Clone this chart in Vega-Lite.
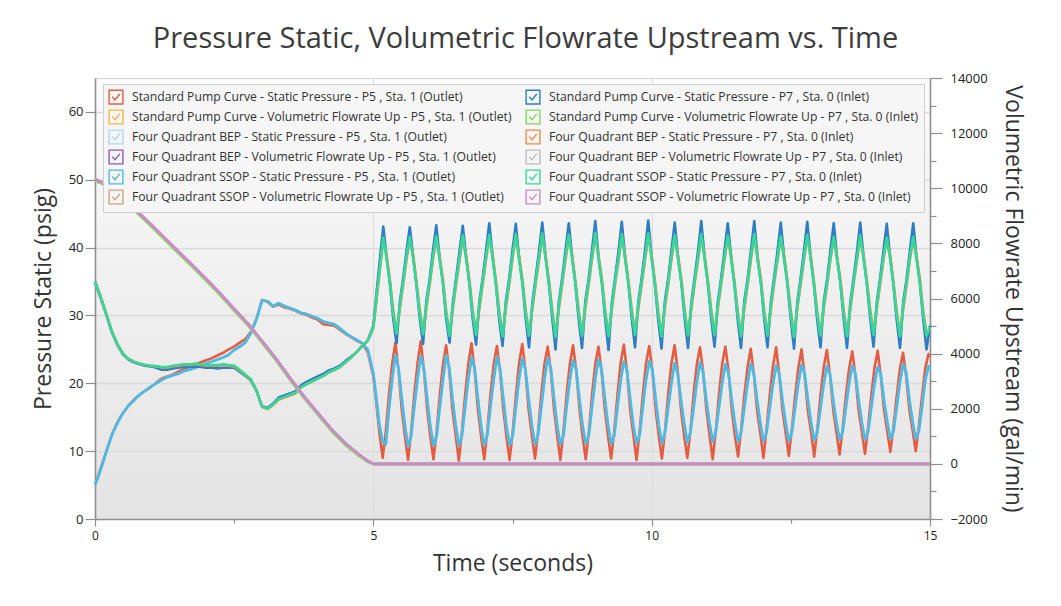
{
"$schema":"https://vega.github.io/schema/vega-lite/v6.json",
"width":835,"height":441,
"autosize":{"type":"none"},
"padding":{"left":95,"top":78,"right":131,"bottom":87},
"background":"white",
"title":{"text":"Pressure Static, Volumetric Flowrate Upstream vs. Time","font":"Open Sans","fontSize":29,"fontWeight":"normal","color":"#3c3c3c","anchor":"middle","baseline":"alphabetic","offset":26,"dx":13,"dy":31},
"config":{
 "view":{"stroke":"#d4d4d4","fill":{"gradient":"linear","x1":0,"y1":0,"x2":0,"y2":1,"stops":[{"offset":0,"color":"#fbfbfb"},{"offset":1,"color":"#e4e4e4"}]}},
 "axis":{"labelFont":"Open Sans","labelFontSize":12.5,"labelColor":"#222","titleFont":"Open Sans","titleFontSize":23,"titleFontWeight":"normal","titleColor":"#333","domainColor":"#8f8f8f","domainWidth":1.6,"tickColor":"#8f8f8f","tickWidth":1.2,"gridColor":"#d9d9d9","gridWidth":1.5}
},
"datasets":{
"p5":[
{"t":0,"a":5,"b":5,"c":5},{"t":0.1,"a":7.4,"b":7.2,"c":7.2},{"t":0.2,"a":9.9,"b":9.8,"c":9.8},{"t":0.3,"a":12.4,"b":12.3,"c":12.3},{"t":0.4,"a":14.2,"b":14.1,"c":14.1},{"t":0.5,"a":15.6,"b":15.6,"c":15.6},{"t":0.6,"a":16.7,"b":16.7,"c":16.7},{"t":0.7,"a":17.6,"b":17.5,"c":17.5},{"t":0.8,"a":18.3,"b":18.3,"c":18.3},{"t":0.9,"a":18.9,"b":18.9,"c":18.9},
{"t":1,"a":19.4,"b":19.5,"c":19.5},{"t":1.1,"a":20.1,"b":20,"c":20},{"t":1.2,"a":20.7,"b":20.5,"c":20.5},{"t":1.3,"a":21,"b":20.9,"c":20.9},{"t":1.4,"a":21.3,"b":21.2,"c":21.2},{"t":1.5,"a":21.7,"b":21.4,"c":21.4},{"t":1.6,"a":22.1,"b":21.8,"c":21.8},{"t":1.7,"a":22.5,"b":22,"c":22},{"t":1.8,"a":22.8,"b":22.3,"c":22.3},{"t":1.9,"a":23.1,"b":22.6,"c":22.6},
{"t":2,"a":23.4,"b":22.9,"c":22.9},{"t":2.1,"a":23.7,"b":23.2,"c":23.2},{"t":2.2,"a":24.1,"b":23.5,"c":23.5},{"t":2.3,"a":24.5,"b":23.8,"c":23.8},{"t":2.4,"a":25,"b":24.2,"c":24.2},{"t":2.5,"a":25.4,"b":24.9,"c":24.9},{"t":2.6,"a":26,"b":25.4,"c":25.4},{"t":2.7,"a":26.5,"b":26,"c":26},{"t":2.8,"a":27.6,"b":27.4,"c":27.4},{"t":2.9,"a":29.5,"b":29.4,"c":29.4},
{"t":3,"a":32.3,"b":32.2,"c":32.2},{"t":3.1,"a":32,"b":32.1,"c":32.1},{"t":3.2,"a":31.3,"b":31.4,"c":31.4},{"t":3.3,"a":31.6,"b":31.8,"c":31.8},{"t":3.4,"a":31.2,"b":31.4,"c":31.4},{"t":3.5,"a":31,"b":31.1,"c":31.1},{"t":3.6,"a":30.7,"b":30.8,"c":30.8},{"t":3.7,"a":30.3,"b":30.4,"c":30.4},{"t":3.8,"a":30.1,"b":30.2,"c":30.2},{"t":3.9,"a":29.7,"b":29.9,"c":29.9},
{"t":4,"a":29.4,"b":29.6,"c":29.6},{"t":4.1,"a":28.7,"b":29.1,"c":29.1},{"t":4.2,"a":28.6,"b":28.9,"c":28.9},{"t":4.3,"a":28.5,"b":28.7,"c":28.7},{"t":4.4,"a":27.9,"b":28.1,"c":28.1},{"t":4.5,"a":27.3,"b":27.4,"c":27.4},{"t":4.6,"a":26.8,"b":26.9,"c":26.9},{"t":4.7,"a":26.3,"b":26.4,"c":26.4},{"t":4.8,"a":25.9,"b":25.9,"c":25.9},{"t":4.9,"a":24.6,"b":25,"c":25},
{"t":5,"a":21,"b":21.5,"c":21.5},{"t":5.054,"a":17,"b":17.8,"c":17.8},{"t":5.111,"a":12.6,"b":13.8,"c":13.8},
{"t":5.168,"a":9,"b":11.4,"c":11.4},{"t":5.225,"a":13,"b":11,"c":11},{"t":5.282,"a":18.4,"b":16.2,"c":16.2},{"t":5.339,"a":22.9,"b":20.6,"c":20.6},{"t":5.396,"a":26,"b":24.2,"c":24.2},{"t":5.453,"a":21.8,"b":22.2,"c":22.2},{"t":5.51,"a":16.2,"b":17.8,"c":17.8},{"t":5.567,"a":12.3,"b":13.8,"c":13.8},
{"t":5.624,"a":8.7,"b":10.7,"c":10.7},{"t":5.681,"a":13.1,"b":12.3,"c":12.3},{"t":5.738,"a":18.5,"b":16.7,"c":16.7},{"t":5.795,"a":23,"b":20.7,"c":20.7},{"t":5.852,"a":26.2,"b":24,"c":24},{"t":5.909,"a":21.9,"b":22.1,"c":22.1},{"t":5.966,"a":16.3,"b":17.9,"c":17.9},{"t":6.023,"a":12.2,"b":13.7,"c":13.7},
{"t":6.08,"a":8.8,"b":10.8,"c":10.8},{"t":6.137,"a":12.9,"b":12.2,"c":12.2},{"t":6.194,"a":18.3,"b":16.5,"c":16.5},{"t":6.251,"a":22.8,"b":20.5,"c":20.5},{"t":6.308,"a":25.6,"b":24.1,"c":24.1},{"t":6.365,"a":21.7,"b":22.3,"c":22.3},{"t":6.422,"a":16.1,"b":17.7,"c":17.7},{"t":6.479,"a":12.4,"b":13.9,"c":13.9},
{"t":6.536,"a":8.6,"b":10.8,"c":10.8},{"t":6.593,"a":13,"b":12.3,"c":12.3},{"t":6.65,"a":18.4,"b":16.6,"c":16.6},{"t":6.707,"a":22.9,"b":20.6,"c":20.6},{"t":6.764,"a":25.9,"b":23.8,"c":23.8},{"t":6.821,"a":21.8,"b":22.2,"c":22.2},{"t":6.878,"a":16.2,"b":17.8,"c":17.8},{"t":6.935,"a":12.3,"b":13.8,"c":13.8},
{"t":6.992,"a":8.8,"b":10.9,"c":10.9},{"t":7.049,"a":13.1,"b":12.4,"c":12.4},{"t":7.106,"a":18.5,"b":16.7,"c":16.7},{"t":7.163,"a":22.8,"b":20.5,"c":20.5},{"t":7.22,"a":25.5,"b":23.9,"c":23.9},{"t":7.277,"a":21.7,"b":22.1,"c":22.1},{"t":7.334,"a":16.3,"b":17.9,"c":17.9},{"t":7.391,"a":12.2,"b":13.7,"c":13.7},
{"t":7.448,"a":8.7,"b":10.9,"c":10.9},{"t":7.505,"a":13,"b":12.3,"c":12.3},{"t":7.562,"a":18.3,"b":16.6,"c":16.6},{"t":7.619,"a":23,"b":20.7,"c":20.7},{"t":7.676,"a":25.8,"b":23.6,"c":23.6},{"t":7.733,"a":21.8,"b":22,"c":22},{"t":7.79,"a":16.1,"b":17.7,"c":17.7},{"t":7.847,"a":12.4,"b":13.9,"c":13.9},
{"t":7.904,"a":8.9,"b":11,"c":11},{"t":7.961,"a":13,"b":12.4,"c":12.4},{"t":8.018,"a":18.4,"b":16.5,"c":16.5},{"t":8.075,"a":22.9,"b":20.6,"c":20.6},{"t":8.132,"a":25.4,"b":23.7,"c":23.7},{"t":8.189,"a":21.8,"b":22.2,"c":22.2},{"t":8.246,"a":16.2,"b":17.8,"c":17.8},{"t":8.303,"a":12.3,"b":13.8,"c":13.8},
{"t":8.36,"a":8.7,"b":11,"c":11},{"t":8.417,"a":13.1,"b":12.3,"c":12.3},{"t":8.474,"a":18.5,"b":16.7,"c":16.7},{"t":8.531,"a":22.9,"b":20.5,"c":20.5},{"t":8.588,"a":25.6,"b":23.4,"c":23.4},{"t":8.645,"a":21.9,"b":22,"c":22},{"t":8.702,"a":16.3,"b":17.7,"c":17.7},{"t":8.759,"a":12.2,"b":13.8,"c":13.8},
{"t":8.816,"a":8.8,"b":11.1,"c":11.1},{"t":8.873,"a":13,"b":12.4,"c":12.4},{"t":8.93,"a":18.4,"b":16.6,"c":16.6},{"t":8.987,"a":22.8,"b":20.6,"c":20.6},{"t":9.044,"a":25.4,"b":23.5,"c":23.5},{"t":9.101,"a":21.7,"b":22.1,"c":22.1},{"t":9.158,"a":16.2,"b":17.8,"c":17.8},{"t":9.215,"a":12.3,"b":13.9,"c":13.9},
{"t":9.272,"a":8.9,"b":11.1,"c":11.1},{"t":9.329,"a":13.1,"b":12.3,"c":12.3},{"t":9.386,"a":18.3,"b":16.5,"c":16.5},{"t":9.443,"a":23,"b":20.4,"c":20.4},{"t":9.5,"a":25.7,"b":23.2,"c":23.2},{"t":9.557,"a":21.8,"b":21.9,"c":21.9},{"t":9.614,"a":16.1,"b":17.7,"c":17.7},{"t":9.671,"a":12.4,"b":13.8,"c":13.8},
{"t":9.728,"a":8.7,"b":11.2,"c":11.2},{"t":9.785,"a":13,"b":12.4,"c":12.4},{"t":9.842,"a":18.4,"b":16.6,"c":16.6},{"t":9.899,"a":22.9,"b":20.5,"c":20.5},{"t":9.956,"a":25.5,"b":23.3,"c":23.3},{"t":10.013,"a":21.8,"b":22,"c":22},{"t":10.07,"a":16.2,"b":17.8,"c":17.8},{"t":10.127,"a":12.3,"b":13.9,"c":13.9},
{"t":10.184,"a":8.9,"b":11.2,"c":11.2},{"t":10.241,"a":13.1,"b":12.8,"c":12.8},{"t":10.298,"a":18.5,"b":16.5,"c":16.5},{"t":10.355,"a":22.9,"b":20,"c":20},{"t":10.412,"a":25.6,"b":23,"c":23},{"t":10.469,"a":21.8,"b":21.4,"c":21.4},{"t":10.526,"a":16.2,"b":17.6,"c":17.6},{"t":10.583,"a":12.3,"b":14.2,"c":14.2},
{"t":10.64,"a":9,"b":11.3,"c":11.3},{"t":10.697,"a":13,"b":12.8,"c":12.8},{"t":10.754,"a":18.4,"b":16.4,"c":16.4},{"t":10.811,"a":22.8,"b":20.1,"c":20.1},{"t":10.868,"a":25.3,"b":23.1,"c":23.1},{"t":10.925,"a":21.7,"b":21.5,"c":21.5},{"t":10.982,"a":16.2,"b":17.5,"c":17.5},{"t":11.039,"a":12.4,"b":14.2,"c":14.2},
{"t":11.096,"a":8.8,"b":11.4,"c":11.4},{"t":11.153,"a":13.1,"b":12.9,"c":12.9},{"t":11.21,"a":18.4,"b":16.5,"c":16.5},{"t":11.267,"a":22.9,"b":20,"c":20},{"t":11.324,"a":25.4,"b":22.8,"c":22.8},{"t":11.381,"a":21.8,"b":21.4,"c":21.4},{"t":11.438,"a":16.2,"b":17.6,"c":17.6},{"t":11.495,"a":12.3,"b":14.2,"c":14.2},
{"t":11.552,"a":9.2,"b":11.4,"c":11.4},{"t":11.609,"a":13.4,"b":12.8,"c":12.8},{"t":11.666,"a":18.3,"b":16.5,"c":16.5},{"t":11.723,"a":22.4,"b":20,"c":20},{"t":11.78,"a":25.1,"b":22.9,"c":22.9},{"t":11.837,"a":21.2,"b":21.4,"c":21.4},{"t":11.894,"a":16,"b":17.6,"c":17.6},{"t":11.951,"a":12.7,"b":14.2,"c":14.2},
{"t":12.008,"a":9,"b":11.5,"c":11.5},{"t":12.065,"a":13.4,"b":12.8,"c":12.8},{"t":12.122,"a":18.3,"b":16.4,"c":16.4},{"t":12.179,"a":22.5,"b":19.9,"c":19.9},{"t":12.236,"a":25.3,"b":22.6,"c":22.6},{"t":12.293,"a":21.2,"b":21.3,"c":21.3},{"t":12.35,"a":16.1,"b":17.5,"c":17.5},{"t":12.407,"a":12.7,"b":14.2,"c":14.2},
{"t":12.464,"a":9.3,"b":11.5,"c":11.5},{"t":12.521,"a":13.5,"b":12.9,"c":12.9},{"t":12.578,"a":18.2,"b":16.5,"c":16.5},{"t":12.635,"a":22.3,"b":20,"c":20},{"t":12.692,"a":25,"b":22.7,"c":22.7},{"t":12.749,"a":21.1,"b":21.4,"c":21.4},{"t":12.806,"a":16,"b":17.6,"c":17.6},{"t":12.863,"a":12.8,"b":14.3,"c":14.3},
{"t":12.92,"a":9.2,"b":11.6,"c":11.6},{"t":12.977,"a":13.4,"b":12.8,"c":12.8},{"t":13.034,"a":18.3,"b":16.4,"c":16.4},{"t":13.091,"a":22.4,"b":19.9,"c":19.9},{"t":13.148,"a":24.9,"b":22.5,"c":22.5},{"t":13.205,"a":21.1,"b":21.3,"c":21.3},{"t":13.262,"a":16,"b":17.5,"c":17.5},{"t":13.319,"a":12.8,"b":14.3,"c":14.3},
{"t":13.376,"a":9.5,"b":11.7,"c":11.7},{"t":13.433,"a":13.5,"b":12.9,"c":12.9},{"t":13.49,"a":18.2,"b":16.5,"c":16.5},{"t":13.547,"a":22.2,"b":20,"c":20},{"t":13.604,"a":24.7,"b":22.6,"c":22.6},{"t":13.661,"a":21,"b":21.4,"c":21.4},{"t":13.718,"a":16,"b":17.6,"c":17.6},{"t":13.775,"a":12.9,"b":14.3,"c":14.3},
{"t":13.832,"a":9.6,"b":11.7,"c":11.7},{"t":13.889,"a":13.6,"b":12.9,"c":12.9},{"t":13.946,"a":18.2,"b":16.4,"c":16.4},{"t":14.003,"a":22.3,"b":19.9,"c":19.9},{"t":14.06,"a":24.8,"b":22.4,"c":22.4},{"t":14.117,"a":21,"b":21.3,"c":21.3},{"t":14.174,"a":16.1,"b":17.5,"c":17.5},{"t":14.231,"a":13,"b":14.4,"c":14.4},
{"t":14.288,"a":9.9,"b":11.8,"c":11.8},{"t":14.345,"a":13.7,"b":12.9,"c":12.9},{"t":14.402,"a":18.1,"b":16.5,"c":16.5},{"t":14.459,"a":22.1,"b":20.1,"c":20.1},{"t":14.516,"a":24.5,"b":22.8,"c":22.8},{"t":14.573,"a":20.9,"b":21.6,"c":21.6},{"t":14.63,"a":16.1,"b":17.6,"c":17.6},{"t":14.687,"a":13.1,"b":14.4,"c":14.4},
{"t":14.744,"a":10,"b":11.8,"c":11.8},{"t":14.801,"a":13.8,"b":13,"c":13},{"t":14.858,"a":18.2,"b":16.6,"c":16.6},{"t":14.915,"a":22.2,"b":20.4,"c":20.4},{"t":14.972,"a":24.3,"b":22.5,"c":22.5},{"t":15,"a":23.9,"b":22,"c":22}
],
"p7":[
{"t":0,"d":35,"e":35,"f":35},{"t":0.1,"d":32.6,"e":32.8,"f":32.8},{"t":0.2,"d":30.2,"e":30.3,"f":30.3},{"t":0.3,"d":27.6,"e":27.7,"f":27.7},{"t":0.4,"d":25.7,"e":25.8,"f":25.8},{"t":0.5,"d":24.3,"e":24.4,"f":24.4},{"t":0.6,"d":23.5,"e":23.6,"f":23.6},{"t":0.7,"d":23.1,"e":23.2,"f":23.2},{"t":0.8,"d":22.8,"e":22.9,"f":22.9},{"t":0.9,"d":22.6,"e":22.7,"f":22.7},
{"t":1,"d":22.5,"e":22.6,"f":22.6},{"t":1.1,"d":22.3,"e":22.5,"f":22.5},{"t":1.2,"d":22,"e":22.3,"f":22.4},{"t":1.3,"d":22,"e":22.3,"f":22.4},{"t":1.4,"d":22.2,"e":22.5,"f":22.6},{"t":1.5,"d":22.3,"e":22.6,"f":22.7},{"t":1.6,"d":22.4,"e":22.7,"f":22.8},{"t":1.7,"d":22.4,"e":22.7,"f":22.8},{"t":1.8,"d":22.5,"e":22.8,"f":22.9},{"t":1.9,"d":22.4,"e":22.7,"f":22.8},
{"t":2,"d":22.3,"e":22.6,"f":22.7},{"t":2.1,"d":22.3,"e":22.6,"f":22.7},{"t":2.2,"d":22.2,"e":22.6,"f":22.7},{"t":2.3,"d":22.3,"e":22.7,"f":22.8},{"t":2.4,"d":22.3,"e":22.6,"f":22.7},{"t":2.5,"d":22.3,"e":22.5,"f":22.6},{"t":2.6,"d":21.7,"e":21.9,"f":22},{"t":2.7,"d":21.1,"e":21.2,"f":21.3},{"t":2.8,"d":20.4,"e":20.5,"f":20.6},{"t":2.9,"d":18.9,"e":19,"f":19},
{"t":3,"d":16.6,"e":16.5,"f":16.6},{"t":3.1,"d":16.4,"e":16.2,"f":16.3},{"t":3.2,"d":17,"e":16.8,"f":16.9},{"t":3.3,"d":17.9,"e":17.6,"f":17.7},{"t":3.4,"d":18.2,"e":17.9,"f":18},{"t":3.5,"d":18.5,"e":18.2,"f":18.3},{"t":3.6,"d":18.8,"e":18.5,"f":18.6},{"t":3.7,"d":19.7,"e":19.4,"f":19.4},{"t":3.8,"d":20.2,"e":19.9,"f":19.9},{"t":3.9,"d":20.6,"e":20.3,"f":20.3},
{"t":4,"d":21,"e":20.7,"f":20.7},{"t":4.1,"d":21.4,"e":21.1,"f":21.1},{"t":4.2,"d":21.9,"e":21.6,"f":21.6},{"t":4.3,"d":22.2,"e":22,"f":22},{"t":4.4,"d":22.6,"e":22.4,"f":22.4},{"t":4.5,"d":23.3,"e":23.1,"f":23.1},{"t":4.6,"d":23.9,"e":23.8,"f":23.8},{"t":4.7,"d":24.6,"e":24.6,"f":24.6},{"t":4.8,"d":25.5,"e":25.5,"f":25.5},{"t":4.9,"d":26.3,"e":26.3,"f":26.3},
{"t":5,"d":28.5,"e":28.2,"f":28.2},{"t":5.06,"d":33.5,"e":32.6,"f":32.8},{"t":5.12,"d":38.5,"e":37,"f":37.2},
{"t":5.179,"d":43.1,"e":41.2,"f":41.5},{"t":5.239,"d":38.6,"e":38.8,"f":38.3},{"t":5.298,"d":34.7,"e":35.2,"f":34.8},{"t":5.358,"d":29.5,"e":30.7,"f":30.2},{"t":5.417,"d":25.9,"e":27.5,"f":27.3},{"t":5.477,"d":32,"e":31,"f":31.5},{"t":5.536,"d":35.5,"e":34.6,"f":35},{"t":5.596,"d":39.5,"e":38.2,"f":38.6},
{"t":5.655,"d":43,"e":41.3,"f":41.6},{"t":5.715,"d":38.7,"e":38.9,"f":38.4},{"t":5.774,"d":34.6,"e":35.1,"f":34.7},{"t":5.834,"d":29.6,"e":30.8,"f":30.3},{"t":5.893,"d":25.8,"e":27.4,"f":27.2},{"t":5.953,"d":32.1,"e":31.1,"f":31.6},{"t":6.012,"d":35.4,"e":34.5,"f":34.9},{"t":6.072,"d":39.6,"e":38.3,"f":38.7},
{"t":6.131,"d":43.3,"e":41.4,"f":41.7},{"t":6.191,"d":38.5,"e":38.7,"f":38.2},{"t":6.25,"d":34.8,"e":35.3,"f":34.9},{"t":6.31,"d":29.4,"e":30.6,"f":30.1},{"t":6.369,"d":26,"e":27.2,"f":27},{"t":6.429,"d":31.9,"e":30.9,"f":31.4},{"t":6.488,"d":35.6,"e":34.7,"f":35.1},{"t":6.548,"d":39.4,"e":38.1,"f":38.5},
{"t":6.607,"d":43.2,"e":41.5,"f":41.8},{"t":6.667,"d":38.6,"e":38.8,"f":38.3},{"t":6.726,"d":34.7,"e":35.2,"f":34.8},{"t":6.786,"d":29.5,"e":30.7,"f":30.2},{"t":6.845,"d":25.7,"e":27.3,"f":27.1},{"t":6.905,"d":32,"e":31,"f":31.5},{"t":6.964,"d":35.5,"e":34.6,"f":35},{"t":7.024,"d":39.5,"e":38.2,"f":38.6},
{"t":7.083,"d":43.6,"e":41.6,"f":41.9},{"t":7.143,"d":38.7,"e":38.9,"f":38.4},{"t":7.202,"d":34.6,"e":35.1,"f":34.7},{"t":7.262,"d":29.4,"e":30.6,"f":30.1},{"t":7.321,"d":25.5,"e":27.1,"f":26.9},{"t":7.381,"d":32.1,"e":31.1,"f":31.6},{"t":7.44,"d":35.4,"e":34.5,"f":34.9},{"t":7.5,"d":39.6,"e":38.3,"f":38.7},
{"t":7.559,"d":43.5,"e":41.7,"f":42},{"t":7.619,"d":38.5,"e":38.7,"f":38.2},{"t":7.678,"d":34.8,"e":35.3,"f":34.9},{"t":7.738,"d":29.5,"e":30.7,"f":30.2},{"t":7.797,"d":25.3,"e":27.2,"f":27},{"t":7.857,"d":31.9,"e":30.9,"f":31.4},{"t":7.916,"d":35.6,"e":34.7,"f":35.1},{"t":7.976,"d":39.4,"e":38.1,"f":38.5},
{"t":8.035,"d":43.7,"e":41.8,"f":42.1},{"t":8.095,"d":38.6,"e":38.8,"f":38.3},{"t":8.154,"d":34.7,"e":35.2,"f":34.8},{"t":8.214,"d":29.6,"e":30.8,"f":30.3},{"t":8.273,"d":25,"e":27,"f":26.8},{"t":8.333,"d":32,"e":31,"f":31.5},{"t":8.392,"d":35.5,"e":34.6,"f":35},{"t":8.452,"d":39.5,"e":38.2,"f":38.6},
{"t":8.511,"d":43.6,"e":41.6,"f":41.9},{"t":8.571,"d":38.7,"e":38.9,"f":38.4},{"t":8.63,"d":34.6,"e":35.1,"f":34.7},{"t":8.69,"d":29.4,"e":30.6,"f":30.1},{"t":8.749,"d":25.2,"e":27.2,"f":27},{"t":8.809,"d":32.1,"e":31.1,"f":31.6},{"t":8.868,"d":35.4,"e":34.5,"f":34.9},{"t":8.928,"d":39.6,"e":38.3,"f":38.7},
{"t":8.987,"d":43.9,"e":41.9,"f":42.2},{"t":9.047,"d":38.5,"e":38.7,"f":38.2},{"t":9.106,"d":34.8,"e":35.3,"f":34.9},{"t":9.166,"d":29.5,"e":30.7,"f":30.2},{"t":9.225,"d":24.9,"e":27.1,"f":26.9},{"t":9.285,"d":31.9,"e":30.9,"f":31.4},{"t":9.344,"d":35.6,"e":34.7,"f":35.1},{"t":9.404,"d":39.4,"e":38.1,"f":38.5},
{"t":9.463,"d":43.8,"e":41.7,"f":42},{"t":9.523,"d":38.6,"e":38.8,"f":38.3},{"t":9.582,"d":34.7,"e":35.2,"f":34.8},{"t":9.642,"d":29.6,"e":30.8,"f":30.3},{"t":9.701,"d":25.3,"e":27.3,"f":27.1},{"t":9.761,"d":32,"e":31,"f":31.5},{"t":9.82,"d":35.5,"e":34.6,"f":35},{"t":9.88,"d":39.5,"e":38.2,"f":38.6},
{"t":9.939,"d":44,"e":41.8,"f":42.1},{"t":9.999,"d":38.7,"e":38.9,"f":38.4},{"t":10.058,"d":34.6,"e":35.1,"f":34.7},{"t":10.118,"d":29.4,"e":30.6,"f":30.1},{"t":10.177,"d":25.1,"e":27.1,"f":26.9},{"t":10.237,"d":32.1,"e":31.1,"f":31.6},{"t":10.296,"d":35.4,"e":34.5,"f":34.9},{"t":10.356,"d":39.6,"e":38.3,"f":38.7},
{"t":10.415,"d":43.7,"e":41.6,"f":41.9},{"t":10.475,"d":38.5,"e":38.7,"f":38.2},{"t":10.534,"d":34.8,"e":35.3,"f":34.9},{"t":10.594,"d":29.5,"e":30.7,"f":30.2},{"t":10.653,"d":25.2,"e":27.2,"f":27},{"t":10.713,"d":31.9,"e":30.9,"f":31.4},{"t":10.772,"d":35.6,"e":34.7,"f":35.1},{"t":10.832,"d":39.4,"e":38.1,"f":38.5},
{"t":10.891,"d":43.9,"e":41.7,"f":42},{"t":10.951,"d":38.6,"e":38.8,"f":38.3},{"t":11.01,"d":34.7,"e":35.2,"f":34.8},{"t":11.07,"d":29.6,"e":30.8,"f":30.3},{"t":11.129,"d":25.4,"e":27.3,"f":27.1},{"t":11.189,"d":32,"e":31,"f":31.5},{"t":11.248,"d":35.5,"e":34.6,"f":35},{"t":11.308,"d":39.5,"e":38.2,"f":38.6},
{"t":11.367,"d":43.6,"e":41.5,"f":41.8},{"t":11.427,"d":38.7,"e":38.9,"f":38.4},{"t":11.486,"d":34.6,"e":35.1,"f":34.7},{"t":11.546,"d":29.4,"e":30.6,"f":30.1},{"t":11.605,"d":25.2,"e":27.1,"f":26.9},{"t":11.665,"d":32.1,"e":31.1,"f":31.6},{"t":11.724,"d":35.4,"e":34.5,"f":34.9},{"t":11.784,"d":39.6,"e":38.3,"f":38.7},
{"t":11.843,"d":43.9,"e":41.7,"f":42},{"t":11.903,"d":38.5,"e":38.7,"f":38.2},{"t":11.962,"d":34.8,"e":35.3,"f":34.9},{"t":12.022,"d":29.5,"e":30.7,"f":30.2},{"t":12.081,"d":25.3,"e":27.2,"f":27},{"t":12.141,"d":31.9,"e":30.9,"f":31.4},{"t":12.2,"d":35.6,"e":34.7,"f":35.1},{"t":12.26,"d":39.4,"e":38.1,"f":38.5},
{"t":12.319,"d":43.7,"e":41.4,"f":41.7},{"t":12.379,"d":38.6,"e":38.8,"f":38.3},{"t":12.438,"d":34.7,"e":35.2,"f":34.8},{"t":12.498,"d":29.6,"e":30.8,"f":30.3},{"t":12.557,"d":25.1,"e":27,"f":26.8},{"t":12.617,"d":32,"e":31,"f":31.5},{"t":12.676,"d":35.5,"e":34.6,"f":35},{"t":12.736,"d":39.5,"e":38.2,"f":38.6},
{"t":12.795,"d":43.8,"e":41.6,"f":41.9},{"t":12.855,"d":38.7,"e":38.9,"f":38.4},{"t":12.914,"d":34.6,"e":35.1,"f":34.7},{"t":12.974,"d":29.4,"e":30.6,"f":30.1},{"t":13.033,"d":25.3,"e":27.2,"f":27},{"t":13.093,"d":32.1,"e":31.1,"f":31.6},{"t":13.152,"d":35.4,"e":34.5,"f":34.9},{"t":13.212,"d":39.6,"e":38.3,"f":38.7},
{"t":13.271,"d":43.6,"e":41.3,"f":41.6},{"t":13.331,"d":38.5,"e":38.7,"f":38.2},{"t":13.39,"d":34.8,"e":35.3,"f":34.9},{"t":13.45,"d":29.5,"e":30.7,"f":30.2},{"t":13.509,"d":25.2,"e":27.1,"f":26.9},{"t":13.569,"d":31.9,"e":30.9,"f":31.4},{"t":13.628,"d":35.6,"e":34.7,"f":35.1},{"t":13.688,"d":39.4,"e":38.1,"f":38.5},
{"t":13.747,"d":43.7,"e":41.5,"f":41.8},{"t":13.807,"d":38.6,"e":38.8,"f":38.3},{"t":13.866,"d":34.7,"e":35.2,"f":34.8},{"t":13.926,"d":29.6,"e":30.8,"f":30.3},{"t":13.985,"d":25.4,"e":27.3,"f":27.1},{"t":14.045,"d":32,"e":31,"f":31.5},{"t":14.104,"d":35.5,"e":34.6,"f":35},{"t":14.164,"d":39.5,"e":38.2,"f":38.6},
{"t":14.223,"d":43.5,"e":41.2,"f":41.5},{"t":14.283,"d":38.7,"e":38.9,"f":38.4},{"t":14.342,"d":34.6,"e":35.1,"f":34.7},{"t":14.402,"d":29.4,"e":30.6,"f":30.1},{"t":14.461,"d":25.2,"e":27.1,"f":26.9},{"t":14.521,"d":32.1,"e":31.1,"f":31.6},{"t":14.58,"d":35.4,"e":34.5,"f":34.9},{"t":14.64,"d":39.6,"e":38.3,"f":38.7},
{"t":14.699,"d":43.6,"e":41.3,"f":41.6},{"t":14.759,"d":38.5,"e":38.7,"f":38.2},{"t":14.818,"d":34.8,"e":35.3,"f":34.9},{"t":14.878,"d":29.5,"e":30.7,"f":30.2},{"t":14.937,"d":25,"e":27.2,"f":27},{"t":15,"d":28.5,"e":28,"f":28.3}
],
"flow":[
{"t":0,"g":10330,"h":10330,"i":10330,"j":10270,"k":10330,"l":10330},
{"t":0.25,"g":10110,"h":10110,"i":10110,"j":10050,"k":10110,"l":10110},
{"t":0.5,"g":9650,"h":9650,"i":9650,"j":9590,"k":9650,"l":9650},
{"t":0.75,"g":9180,"h":9180,"i":9180,"j":9120,"k":9180,"l":9180},
{"t":1,"g":8700,"h":8700,"i":8700,"j":8640,"k":8700,"l":8700},
{"t":1.25,"g":8200,"h":8200,"i":8200,"j":8140,"k":8200,"l":8200},
{"t":1.5,"g":7700,"h":7700,"i":7700,"j":7640,"k":7700,"l":7700},
{"t":1.75,"g":7210,"h":7210,"i":7210,"j":7150,"k":7210,"l":7210},
{"t":2,"g":6700,"h":6700,"i":6700,"j":6640,"k":6700,"l":6700},
{"t":2.25,"g":6180,"h":6180,"i":6180,"j":6120,"k":6180,"l":6180},
{"t":2.5,"g":5620,"h":5620,"i":5620,"j":5560,"k":5620,"l":5620},
{"t":2.75,"g":5080,"h":5080,"i":5080,"j":5020,"k":5080,"l":5080},
{"t":3,"g":4460,"h":4460,"i":4460,"j":4400,"k":4460,"l":4460},
{"t":3.25,"g":3820,"h":3820,"i":3820,"j":3760,"k":3820,"l":3820},
{"t":3.5,"g":3120,"h":3120,"i":3120,"j":3060,"k":3120,"l":3120},
{"t":3.75,"g":2460,"h":2460,"i":2460,"j":2400,"k":2460,"l":2460},
{"t":4,"g":1850,"h":1850,"i":1850,"j":1790,"k":1850,"l":1850},
{"t":4.25,"g":1250,"h":1250,"i":1250,"j":1190,"k":1250,"l":1250},
{"t":4.5,"g":740,"h":740,"i":740,"j":680,"k":740,"l":740},
{"t":4.75,"g":330,"h":330,"i":330,"j":280,"k":330,"l":330},
{"t":4.9,"g":110,"h":110,"i":110,"j":70,"k":110,"l":110},
{"t":5,"g":0,"h":0,"i":0,"j":0,"k":0,"l":0},
{"t":15,"g":0,"h":0,"i":0,"j":0,"k":0,"l":0}
]
},
"layer":[
{"layer":[
 {"data":{"name":"p5"},"transform":[{"fold":["a","b","c"],"as":["key","value"]}],
  "mark":{"type":"line","strokeWidth":2.6,"strokeJoin":"round"},
  "encoding":{
   "x":{"field":"t","type":"quantitative","title":"Time (seconds)","scale":{"domain":[0,15],"nice":false,"zero":false},"axis":{"values":[0,2.5,5,7.5,10,12.5,15],"labelExpr":"datum.value % 5 === 0 ? datum.label : ''","tickSize":{"condition":{"test":"datum.value % 5 === 0","value":7},"value":4},"grid":true,"gridWidth":1,"gridColor":"#dcdcdc","gridOpacity":{"condition":{"test":"datum.value % 5 === 0","value":1},"value":0},"labelPadding":4,"labelFontSize":12,"titlePadding":11,"labelFlush":false}},
   "y":{"field":"value","type":"quantitative","title":"Pressure Static (psig)","scale":{"domain":[0,65],"nice":false,"zero":false},"axis":{"values":[0,5,10,15,20,25,30,35,40,45,50,55,60,65],"labelExpr":"datum.value % 10 === 0 ? datum.label : ''","tickSize":{"condition":{"test":"datum.value % 10 === 0","value":10},"value":5},"grid":true,"gridOpacity":{"condition":{"test":"datum.value % 10 === 0 && datum.value > 0","value":1},"value":0},"labelPadding":2,"labelFontSize":13,"titlePadding":13}},
   "color":{"field":"key","type":"nominal","scale":{"domain":["a","g","b","h","c","i","d","j","e","k","f","l"],"range":["#e35d45","#f5b740","#a8d7f4","#8d5db5","#4bb9e1","#c9a67e","#2f7ec4","#86d35c","#f08a48","#bcbcbc","#34d898","#cb8bcb"]},
    "legend":{"orient":"none","legendX":8,"legendY":6,"columns":2,"title":null,"labelExpr":"{'a':'Standard Pump Curve - Static Pressure - P5 , Sta. 1 (Outlet)','d':'Standard Pump Curve - Static Pressure - P7 , Sta. 0 (Inlet)','g':'Standard Pump Curve - Volumetric Flowrate Up - P5 , Sta. 1 (Outlet)','j':'Standard Pump Curve - Volumetric Flowrate Up - P7 , Sta. 0 (Inlet)','b':'Four Quadrant BEP - Static Pressure - P5 , Sta. 1 (Outlet)','e':'Four Quadrant BEP - Static Pressure - P7 , Sta. 0 (Inlet)','h':'Four Quadrant BEP - Volumetric Flowrate Up - P5 , Sta. 1 (Outlet)','k':'Four Quadrant BEP - Volumetric Flowrate Up - P7 , Sta. 0 (Inlet)','c':'Four Quadrant SSOP - Static Pressure - P5 , Sta. 1 (Outlet)','f':'Four Quadrant SSOP - Static Pressure - P7 , Sta. 0 (Inlet)','i':'Four Quadrant SSOP - Volumetric Flowrate Up - P5 , Sta. 1 (Outlet)','l':'Four Quadrant SSOP - Volumetric Flowrate Up - P7 , Sta. 0 (Inlet)'}[datum.value]","symbolType":"M-1,-1H1V1H-1Z M-0.55,-0.05L-0.15,0.4L0.55,-0.45","symbolSize":190,"symbolStrokeWidth":1.4,"labelFont":"Open Sans","labelFontSize":12.2,"labelColor":"#333","labelLimit":600,"labelOffset":8,"columnPadding":11,"rowPadding":0,"padding":5,"fillColor":"#f6f6f6","strokeColor":"#cfcfcf"}}
  }},
 {"data":{"name":"p7"},"transform":[{"fold":["d","e","f"],"as":["key","value"]}],
  "mark":{"type":"line","strokeWidth":2.6,"strokeJoin":"round"},
  "encoding":{
   "x":{"field":"t","type":"quantitative"},
   "y":{"field":"value","type":"quantitative"},
   "color":{"field":"key","type":"nominal"}
  }}
 ]},
{"data":{"name":"flow"},"transform":[{"fold":["g","h","i","j","k","l"],"as":["key","flow"]}],
 "mark":{"type":"line","strokeWidth":2.6,"strokeJoin":"round"},
 "encoding":{
  "x":{"field":"t","type":"quantitative"},
  "y":{"field":"flow","type":"quantitative","title":"Volumetric Flowrate Upstream (gal/min)","scale":{"domain":[-2000,14000],"nice":false,"zero":false},"axis":{"orient":"right","values":[-2000,-1000,0,1000,2000,3000,4000,5000,6000,7000,8000,9000,10000,11000,12000,13000,14000],"format":"d","labelExpr":"datum.value % 2000 === 0 ? datum.label : ''","tickSize":{"condition":{"test":"datum.value % 2000 === 0","value":12},"value":6},"grid":false,"labelPadding":8,"labelFontSize":13,"titlePadding":13}},
  "color":{"field":"key","type":"nominal"}
 }}
],
"resolve":{"scale":{"y":"independent"}}
}
